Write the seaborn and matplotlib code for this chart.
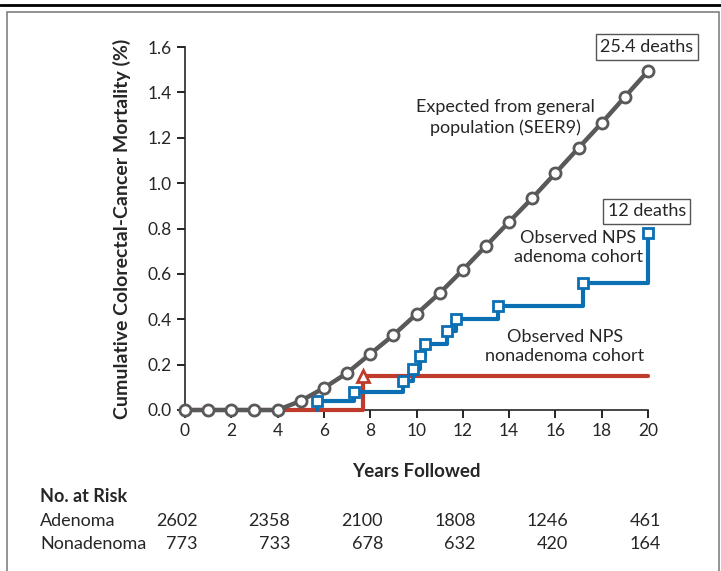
import pandas as pd
import matplotlib.pyplot as plt
import seaborn as sb
from matplotlib.patches import Rectangle
from matplotlib.lines import Line2D
import matplotlib.transforms as mtrans

# expected curve (SEER9)
years_exp = list(range(0, 21))
mort_exp = [0, 0, 0, 0, 0, 0.04, 0.097, 0.163, 0.247, 0.33, 0.423, 0.515,
            0.617, 0.723, 0.829, 0.934, 1.044, 1.155, 1.265, 1.38, 1.494]

# observed adenoma cohort (step points)
years_ad = [5.7, 7.3, 9.4, 9.85, 10.15, 10.35, 11.3, 11.7, 13.5, 17.2, 20]
mort_ad = [0.04, 0.08, 0.13, 0.18, 0.24, 0.29, 0.35, 0.40, 0.46, 0.56, 0.78]

# observed nonadenoma cohort
years_non = [0, 7.7, 20]
mort_non = [0, 0.15, 0.15]

# number at risk
risk_years = [0, 4, 8, 12, 16, 20]
risk_adenoma = [2602, 2358, 2100, 1808, 1246, 461]
risk_nonadenoma = [773, 733, 678, 632, 420, 164]

GRAY = '#595959'
BLUE = '#0B6FB3'
RED = '#BF3B2C'

sb.set_style('ticks')
plt.rcParams['font.family'] = ['Lato', 'DejaVu Sans']
plt.rcParams['font.size'] = 13

fig = plt.figure(figsize=(7.21, 5.71), dpi=100)
ax = fig.add_axes([185 / 721, 1 - 410 / 571, 463 / 721, 363 / 571])

#frame and top rule
fig.patches.append(Rectangle((7 / 721, -0.01), 712 / 721, 1 - 12 / 571 + 0.01,
                             transform=fig.transFigure, fill=False,
                             edgecolor='#808080', linewidth=1.2))
fig.lines.append(Line2D([0, 1], [1 - 5 / 571, 1 - 5 / 571], transform=fig.transFigure,
                        color='black', linewidth=2))

df_exp = pd.DataFrame({'years': years_exp, 'mort': mort_exp})
df_ad = pd.DataFrame({'years': [years_ad[0]] + years_ad, 'mort': [0] + mort_ad})
df_non = pd.DataFrame({'years': years_non, 'mort': mort_non})

sb.lineplot(data=df_non, x='years', y='mort', ax=ax, color=RED, linewidth=3,
            estimator=None, sort=False,
            drawstyle='steps-post', marker='^', markevery=[1], markersize=9,
            markerfacecolor='white', markeredgecolor=RED, markeredgewidth=2,
            clip_on=False, zorder=3)
sb.lineplot(data=df_ad, x='years', y='mort', ax=ax, color=BLUE, linewidth=3,
            estimator=None, sort=False,
            drawstyle='steps-post', marker='s', markevery=list(range(1, len(df_ad))),
            markersize=7, markerfacecolor='white', markeredgecolor=BLUE,
            markeredgewidth=2, clip_on=False, zorder=4)
sb.lineplot(data=df_exp, x='years', y='mort', ax=ax, color=GRAY, linewidth=3.2,
            estimator=None, sort=False,
            marker='o', markersize=8, markerfacecolor='white', markeredgecolor=GRAY,
            markeredgewidth=2, clip_on=False, zorder=5)

ax.set_xlim(0, 20)
ax.set_ylim(0, 1.6)
ax.set_xticks(range(0, 21, 2))
ax.set_yticks([i / 10 for i in range(0, 17, 2)])
ax.set_yticklabels([f'{i / 10:.1f}' for i in range(0, 17, 2)])
ax.tick_params(direction='out', length=6, width=1.2, labelsize=12.5, color='black')
for s in ['top', 'right']:
    ax.spines[s].set_visible(False)
for s in ['left', 'bottom']:
    ax.spines[s].set_linewidth(1.2)
ax.set_xlabel('Years Followed', fontweight='bold', fontsize=13.5, labelpad=17)
ax.set_ylabel('Cumulative Colorectal-Cancer Mortality (%)', fontweight='bold',
              fontsize=14, labelpad=12)

# annotations
box = dict(boxstyle='square,pad=0.25', facecolor='white', edgecolor='#555555', linewidth=1)
ax.text(19.95, 1.6, '25.4 deaths', ha='center', va='center', fontsize=13, bbox=box)
ax.text(19.95, 0.875, '12 deaths', ha='center', va='center', fontsize=13, bbox=box)
ax.text(13.85, 1.29, 'Expected from general\npopulation (SEER9)', ha='center',
        va='center', fontsize=13, linespacing=1.3)
ax.text(17.0, 0.715, 'Observed NPS\nadenoma cohort', ha='center', va='center',
        fontsize=13, linespacing=1.2)
ax.text(16.4, 0.28, 'Observed NPS\nnonadenoma cohort', ha='center', va='center',
        fontsize=13, linespacing=1.2)

# number at risk table
trans = mtrans.blended_transform_factory(ax.transData, fig.transFigure)
fig.text(40 / 721, 1 - 497 / 571, 'No. at Risk', fontweight='bold', fontsize=13, va='center')
fig.text(40 / 721, 1 - 521 / 571, 'Adenoma', fontsize=13, va='center')
fig.text(40 / 721, 1 - 544 / 571, 'Nonadenoma', fontsize=13, va='center')
for yr, a, n in zip(risk_years, risk_adenoma, risk_nonadenoma):
    ax.text(yr + 0.55, 1 - 521 / 571, str(a), transform=trans, ha='right', va='center',
            fontsize=13, clip_on=False)
    ax.text(yr + 0.55, 1 - 544 / 571, str(n), transform=trans, ha='right', va='center',
            fontsize=13, clip_on=False)

plt.savefig('out.png', dpi=100)
